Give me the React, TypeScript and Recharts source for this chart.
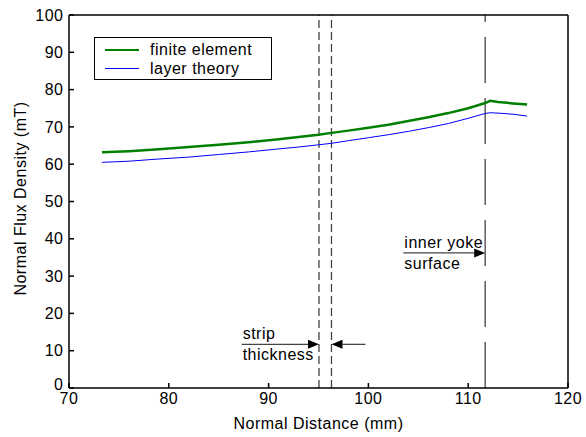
import React from "react";
import {
  LineChart,
  Line,
  XAxis,
  YAxis,
  ReferenceLine,
  Legend,
  Label,
} from "recharts";

// values
const distance = [73.3, 76, 79, 82, 85, 88, 91, 93, 95, 96.3, 98, 100, 102, 104, 106, 108, 110, 111.7, 112.2, 113, 114.5, 115.9];
const finiteElement = [63.2, 63.5, 64.0, 64.6, 65.2, 65.9, 66.7, 67.3, 67.9, 68.4, 69.0, 69.8, 70.6, 71.6, 72.6, 73.7, 75.0, 76.4, 77.0, 76.7, 76.3, 76.0];
const layerTheory = [60.5, 60.8, 61.4, 61.9, 62.6, 63.3, 64.1, 64.6, 65.2, 65.6, 66.3, 67.1, 67.9, 68.8, 69.8, 70.9, 72.3, 73.6, 73.8, 73.7, 73.4, 72.9];

const xTicks = [70, 80, 90, 100, 110, 120];
const yTicks = [0, 10, 20, 30, 40, 50, 60, 70, 80, 90, 100];

const stripEdges = [95.05, 96.3];
const yokeSurface = 111.7;
// annotation arrows: [fromX, toX, y]
const stripArrowIn = [87.3, 95.05, 11.7];
const stripArrowOut = [99.7, 96.3, 11.7];
const yokeArrow = [103.5, 111.7, 36.2];

const data = distance.map((d, i) => ({
  d,
  fe: finiteElement[i],
  lt: layerTheory[i],
}));

const font = "Liberation Sans, Arial, sans-serif";
const textStyle = { fontFamily: font, fontSize: 16, letterSpacing: 0.5, fill: "#000" };

const arrowShape = (labels: string[]) => (props: any) => {
  const { x1, y1, x2, y2 } = props;
  const dir = x2 > x1 ? 1 : -1;
  const head = 11;
  return (
    <g>
      <line x1={x1} y1={y1} x2={x2 - dir * head} y2={y2} stroke="#444" strokeWidth={1.3} />
      <polygon
        points={`${x2},${y2} ${x2 - dir * head},${y2 - 4.5} ${x2 - dir * head},${y2 + 4.5}`}
        fill="#000"
      />
      {labels[0] && (
        <text x={x1 + 1} y={y1 - 5} style={textStyle}>
          {labels[0]}
        </text>
      )}
      {labels[1] && (
        <text x={x1 + 1} y={y1 + 16} style={textStyle}>
          {labels[1]}
        </text>
      )}
    </g>
  );
};

// y tick labels; the 0 sits a little higher so it clears the 70 below it
const YTick = (props: any) => {
  const { x, y, payload } = props;
  return (
    <text x={x} y={payload.value === 0 ? y - 4 : y} dy="0.355em" textAnchor="end" style={textStyle}>
      {payload.value}
    </text>
  );
};

const LegendBox = (props: any) => {
  const { payload } = props;
  return (
    <div
      style={{
        border: "1.5px solid #000",
        background: "#fff",
        width: 178,
        height: 43,
        boxSizing: "border-box",
        paddingTop: 2,
      }}
    >
      {payload.map((p: any) => (
        <div key={p.value} style={{ display: "flex", alignItems: "center", height: 19, fontFamily: font, fontSize: 16, letterSpacing: 0.5 }}>
          <span
            style={{
              display: "inline-block",
              marginLeft: 10,
              width: 34,
              height: 0,
              borderTop: `${p.value === "finite element" ? 2.5 : 1}px solid ${p.color}`,
            }}
          />
          <span style={{ marginLeft: 11 }}>{p.value}</span>
        </div>
      ))}
    </div>
  );
};

export default function App() {
  return (
    <div style={{ position: "absolute", left: 0, top: 0, background: "#fff" }}>
      <LineChart
        width={586}
        height={437}
        data={data}
        margin={{ top: 14, right: 17, left: 0, bottom: 0 }}
      >
        <XAxis
          dataKey="d"
          type="number"
          domain={[70, 120]}
          ticks={xTicks}
          height={49}
          tickSize={-5}
          tickMargin={10}
          stroke="#000"
          strokeWidth={1.5}
          tick={{ ...textStyle }}
          interval={0}
        >
          <Label
            content={(p: any) => (
              <text
                x={p.viewBox.x + p.viewBox.width / 2}
                y={429}
                textAnchor="middle"
                style={textStyle}
              >
                Normal Distance (mm)
              </text>
            )}
          />
        </XAxis>
        <XAxis
          xAxisId="top"
          orientation="top"
          type="number"
          domain={[70, 120]}
          ticks={xTicks}
          height={1}
          tickSize={-5}
          tick={false}
          stroke="#000"
          strokeWidth={1.5}
          interval={0}
        />
        <YAxis
          type="number"
          domain={[0, 100]}
          ticks={yTicks}
          width={69}
          tickSize={-5}
          tickMargin={10.5}
          stroke="#000"
          strokeWidth={1.5}
          tick={<YTick />}
          interval={0}
        >
          <Label
            content={(p: any) => {
              const cx = 20;
              const cy = p.viewBox.y + p.viewBox.height / 2 - 3;
              return (
                <text
                  x={cx}
                  y={cy}
                  textAnchor="middle"
                  dominantBaseline="central"
                  transform={`rotate(-90 ${cx} ${cy})`}
                  style={textStyle}
                >
                  Normal Flux Density (mT)
                </text>
              );
            }}
          />
        </YAxis>
        <YAxis
          yAxisId="right"
          orientation="right"
          type="number"
          domain={[0, 100]}
          ticks={yTicks}
          width={1}
          tickSize={-5}
          tick={false}
          stroke="#000"
          strokeWidth={1.5}
          interval={0}
        />
        {stripEdges.map((x) => (
          <ReferenceLine key={x} x={x} stroke="#444" strokeWidth={1.3} strokeDasharray="8 4" />
        ))}
        <ReferenceLine x={yokeSurface} stroke="#444" strokeWidth={1.3} strokeDasharray="46 15" />
        <ReferenceLine
          segment={[{ x: stripArrowIn[0], y: stripArrowIn[2] }, { x: stripArrowIn[1], y: stripArrowIn[2] }]}
          shape={arrowShape(["strip", "thickness"])}
        />
        <ReferenceLine
          segment={[{ x: stripArrowOut[0], y: stripArrowOut[2] }, { x: stripArrowOut[1], y: stripArrowOut[2] }]}
          shape={arrowShape([])}
        />
        <ReferenceLine
          segment={[{ x: yokeArrow[0], y: yokeArrow[2] }, { x: yokeArrow[1], y: yokeArrow[2] }]}
          shape={arrowShape(["inner yoke", "surface"])}
        />
        <Line
          dataKey="fe"
          name="finite element"
          stroke="#008000"
          strokeWidth={2.5}
          dot={false}
          isAnimationActive={false}
        />
        <Line
          dataKey="lt"
          name="layer theory"
          stroke="#0000ff"
          strokeWidth={1}
          dot={false}
          isAnimationActive={false}
        />
        <Legend
          layout="horizontal"
          verticalAlign="middle"
          align="center"
          content={<LegendBox />}
          wrapperStyle={{ left: 94, top: 37, width: 178, height: 43 }}
        />
      </LineChart>
    </div>
  );
}
